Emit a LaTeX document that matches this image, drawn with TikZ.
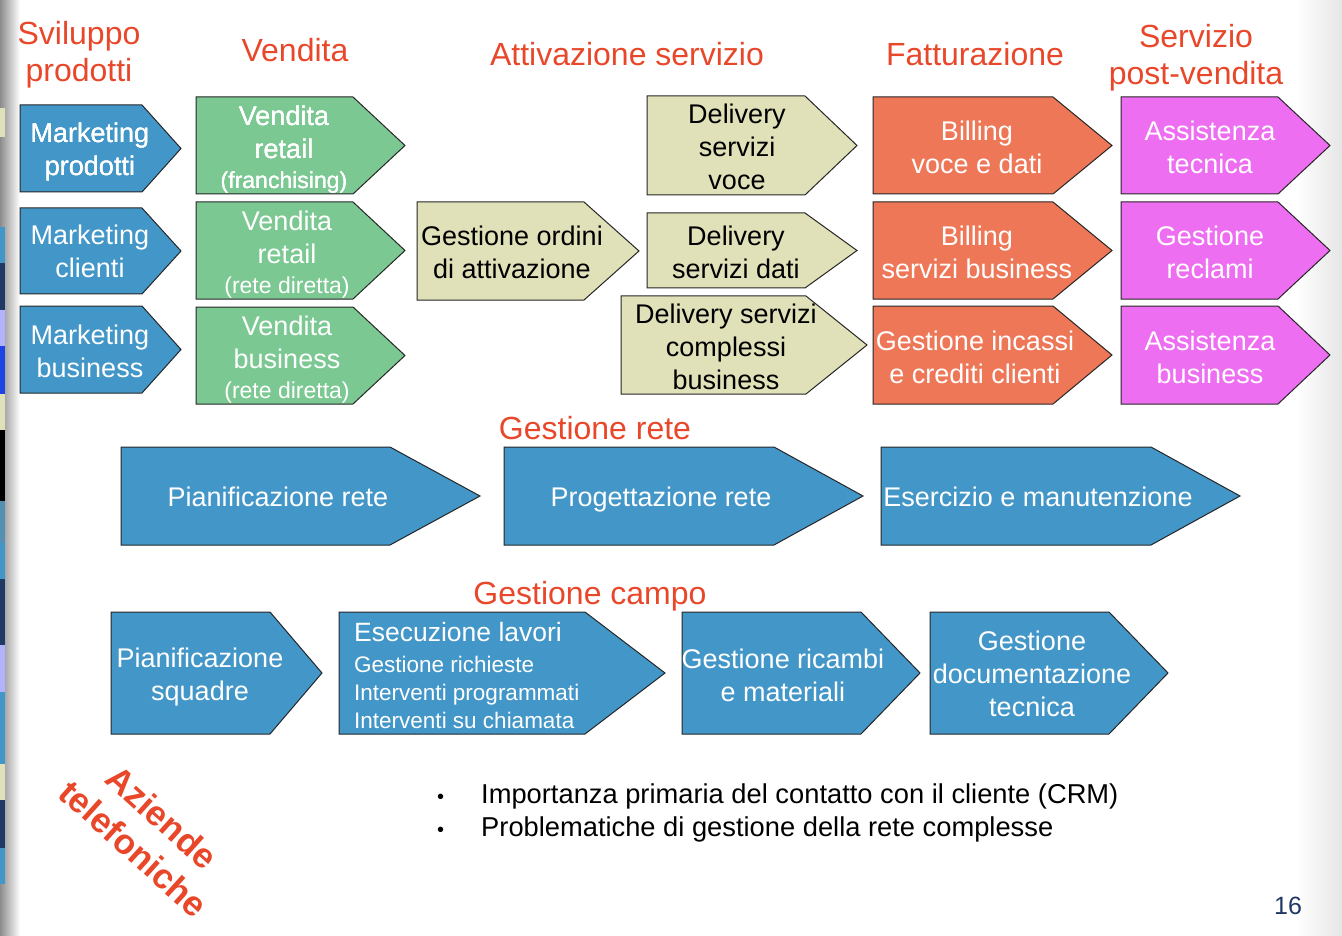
\documentclass[tikz,border=0pt]{standalone}
\usepackage{fontspec}
\setmainfont{Liberation Sans}
\usetikzlibrary{shapes,positioning}
\definecolor{procblue}{HTML}{4396C8}
\definecolor{sellgreen}{HTML}{7CC893}
\definecolor{activkhaki}{HTML}{E0E0B9}
\definecolor{billorange}{HTML}{EE7757}
\definecolor{postpink}{HTML}{EE6EF2}
\definecolor{headred}{HTML}{E8472A}
\definecolor{pagenavy}{HTML}{1F3864}
% #1 fill, #2 left, #3 top, #4 end of body, #5 tip, #6 bottom
\newcommand{\chevron}[6]{\draw[chev,fill=#1] (#2,#3) -- (#4,#3) -- (#5,{(#3+#6)/2}) -- (#4,#6) -- (#2,#6) -- cycle;}
\newcommand{\bulletbox}{\makebox[44pt][l]{\fontsize{20}{24}\selectfont\textbullet}}

\begin{document}
\begin{tikzpicture}[x=1pt,y=-1pt,
    chev/.style={draw=black!85, line width=1pt},
    boxtxt/.style={align=center, inner sep=0pt, text=white, font=\fontsize{27}{33}\selectfont},
    headtxt/.style={align=center, inner sep=0pt, text=headred, font=\fontsize{32}{37}\selectfont}]
    \useasboundingbox (0,0) rectangle (1342,936);
    % slide edges
    \shade[left color=black!45, right color=white] (0,0) rectangle (20,936);
    \shade[left color=white, right color=black!10] (1296,0) rectangle (1342,936);
    \foreach \ya/\yb/\col in {108/137/activkhaki, 227/263/procblue, 263/310/pagenavy, 310/346/blue!30, 346/394/blue!55!procblue, 394/430/activkhaki, 430/501/black, 501/543/procblue!70!gray, 543/579/procblue, 579/645/pagenavy, 645/692/blue!30, 692/764/procblue, 764/800/activkhaki, 800/848/pagenavy, 848/884/procblue}
        \fill[\col] (0,\ya) rectangle (5,\yb);

    % headings
    \node[headtxt] (hsvil) at (79,55) {Sviluppo\\prodotti};
    \node[headtxt] (hvend) at (295,50) {Vendita};
    \node[headtxt] (hattiv) at (627,54) {Attivazione servizio};
    \node[headtxt] (hfatt) at (975,54) {Fatturazione};
    \node[headtxt] (hpost) at (1196,58) {Servizio\\post-vendita};
    \node[headtxt] (hrete) at (595,428) {Gestione rete};
    \node[headtxt] (hcampo) at (590,596) {Gestione campo};

    % sviluppo prodotti
    \foreach \yt/\yb in {105/192, 208/294, 306/393}
        \chevron{procblue}{20}{\yt}{142}{181}{\yb}
    \node[boxtxt] (mprod) at (90,152) {Marketing\\prodotti};
    \node[boxtxt] (mcli) at (90,251) {Marketing\\clienti};
    \node[boxtxt] (mbus) at (90,351) {Marketing\\business};

    % vendita
    \foreach \yt/\yb in {97/194, 202/299, 307/404}
        \chevron{sellgreen}{196}{\yt}{353}{405}{\yb}
    \node[boxtxt] (vfranch) at (284,150) {Vendita\\retail\\[-3pt]{\fontsize{23}{28}\selectfont (franchising)}};
    \node[boxtxt] (vretail) at (287,255) {Vendita\\retail\\[-3pt]{\fontsize{23}{28}\selectfont (rete diretta)}};
    \node[boxtxt] (vbus) at (287,360) {Vendita\\business\\[-3pt]{\fontsize{23}{28}\selectfont (rete diretta)}};

    % attivazione servizio
    \chevron{activkhaki}{417}{202}{584}{639}{300}
    \chevron{activkhaki}{647}{96}{805}{857}{195}
    \chevron{activkhaki}{647}{213}{805}{857}{288}
    \chevron{activkhaki}{621}{296}{806}{867}{394}
    \node[boxtxt,text=black] (ordini) at (512,252) {Gestione ordini\\di attivazione};
    \node[boxtxt,text=black] (dvoce) at (737,147) {Delivery\\servizi\\voce};
    \node[boxtxt,text=black] (ddati) at (736,252) {Delivery\\servizi dati};
    \node[boxtxt,text=black] (dcompl) at (726,347) {Delivery servizi\\complessi\\business};

    % fatturazione e post-vendita
    \foreach \yt/\yb in {97/194, 202/299, 306/404} {
        \chevron{billorange}{873}{\yt}{1053}{1112}{\yb}
        \chevron{postpink}{1121}{\yt}{1278}{1330}{\yb}
    }
    \node[boxtxt] (bvoce) at (977,147) {Billing\\voce e dati};
    \node[boxtxt] (bbus) at (977,252) {Billing\\servizi business};
    \node[boxtxt] (incassi) at (975,357) {Gestione incassi\\e crediti clienti};
    \node[boxtxt] (atec) at (1210,147) {Assistenza\\tecnica};
    \node[boxtxt] (reclami) at (1210,252) {Gestione\\reclami};
    \node[boxtxt] (abus) at (1210,357) {Assistenza\\business};

    % gestione rete
    \chevron{procblue}{121}{447}{390}{480}{545}
    \chevron{procblue}{504}{447}{774}{863}{545}
    \chevron{procblue}{881}{447}{1151}{1240}{545}
    \node[boxtxt] (pianrete) at (278,497) {Pianificazione rete};
    \node[boxtxt] (progrete) at (661,500) {Progettazione rete};
    \node[boxtxt] (esercizio) at (1038,497) {Esercizio e manutenzione};

    % gestione campo
    \chevron{procblue}{111}{612}{270}{322}{734}
    \chevron{procblue}{339}{612}{585}{665}{734}
    \chevron{procblue}{682}{612}{861}{920}{734}
    \chevron{procblue}{930}{612}{1109}{1168}{734}
    \node[boxtxt] (squadre) at (200,677) {Pianificazione\\squadre};
    \node[boxtxt,align=left,anchor=west,font=\fontsize{22.5}{28}\selectfont] (lavori) at (354,676)
        {{\fontsize{26.5}{31}\selectfont Esecuzione lavori}\\[3pt]Gestione richieste\\Interventi programmati\\Interventi su chiamata};
    \node[boxtxt] (ricambi) at (783,675) {Gestione ricambi\\e materiali};
    \node[boxtxt] (docum) at (1032,674) {Gestione\\documentazione\\tecnica};

    % note
    \node[align=left, anchor=west, inner sep=0pt, font=\fontsize{27.3}{33}\selectfont] (notes) at (437,813)
        {\bulletbox Importanza primaria del contatto con il cliente (CRM)\\
         \bulletbox Problematiche di gestione della rete complesse};
    \node[rotate=-42, align=center, inner sep=0pt, text=headred, font=\fontsize{35}{42}\selectfont\bfseries] (aziende) at (148,833)
        {Aziende\\telefoniche};
    \node[text=pagenavy, inner sep=0pt, font=\fontsize{25}{30}\selectfont] (pagenum) at (1288,906) {16};
\end{tikzpicture}
\end{document}
